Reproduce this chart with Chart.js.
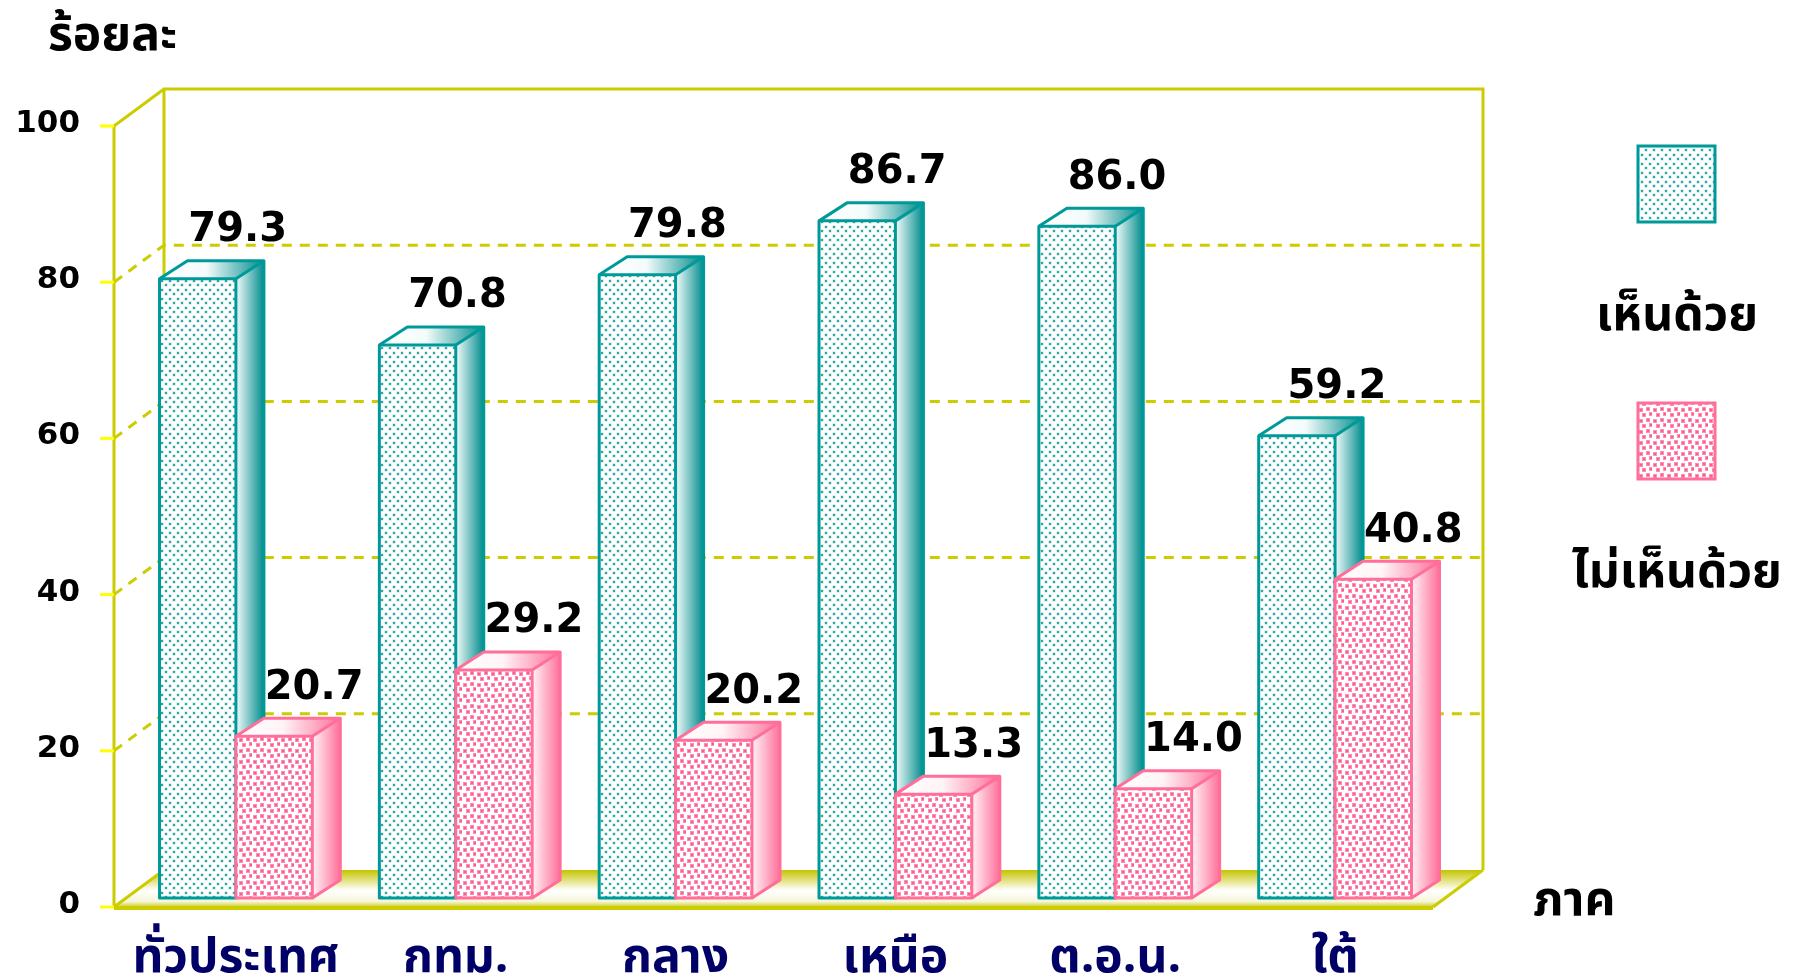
<!DOCTYPE html>
<html>
<head>
<meta charset="utf-8">
<script src="https://cdn.jsdelivr.net/npm/chart.js@4.4.1/dist/chart.umd.min.js"></script>
<style>
  html, body { margin: 0; padding: 0; background: #fff; overflow: hidden; }
  canvas { display: block; }
</style>
</head>
<body>
<canvas id="c" width="1798" height="979"></canvas>
<script>
// data
var categories = ['ทั่วประเทศ', 'กทม.', 'กลาง', 'เหนือ', 'ต.อ.น.', 'ใต้'];
var agree = [79.3, 70.8, 79.8, 86.7, 86.0, 59.2];
var disagree = [20.7, 29.2, 20.2, 13.3, 14.0, 40.8];
var seriesNames = ['เห็นด้วย', 'ไม่เห็นด้วย'];
var yTicks = [0, 20, 40, 60, 80, 100];
var yTitle = 'ร้อยละ';
var xTitle = 'ภาค';

var THAI = '"Noto Sans Thai", "Noto Sans Thai UI", Tahoma, "Noto Sans", sans-serif';
var NUM = '"DejaVu Sans", sans-serif';
var OLIVE = '#cccc00';

// bar depth and wall offsets
var DX = 28, DY = -18;
var FRONT_DX = -12, FRONT_DY = 9, BACK_DX = 38, BACK_DY = -28;

function makePattern(kind) {
    var c = document.createElement('canvas');
    var g = c.getContext('2d');
    if (kind === 'teal') {
        c.width = 8; c.height = 9;
        g.fillStyle = '#fff'; g.fillRect(0, 0, 8, 9);
        [[1, 1], [5, 5]].forEach(function (p) {
            g.fillStyle = '#b4e0e0';
            g.fillRect(p[0] - 0.5, p[1] - 0.5, 3, 3);
            g.fillStyle = '#2aa6a6';
            g.fillRect(p[0], p[1], 2, 2);
        });
    } else {
        c.width = 14; c.height = 11;
        g.fillStyle = '#fff'; g.fillRect(0, 0, 14, 11);
        [[1, 1], [8, 0], [4, 6], [11, 5]].forEach(function (p) {
            g.fillStyle = '#ff8fb2';
            g.fillRect(p[0], p[1], 4, 4);
            g.fillStyle = '#ff5a8e';
            g.fillRect(p[0] + 1, p[1] + 1, 2, 2);
        });
    }
    return g.createPattern(c, 'repeat');
}

var styles = [
    { line: '#009999', dark: '#008c8c', light: '#f4fbfb', pattern: null, kind: 'teal' },
    { line: '#ff6f9a', dark: '#ff6f9a', light: '#fff4f7', pattern: null, kind: 'pink' }
];

function drawBar(ctx, el, s) {
    var l = el.x - el.width / 2, r = el.x + el.width / 2, t = el.y, b = el.base;
    ctx.save();
    ctx.lineJoin = 'round';
    // side face
    var gs = ctx.createLinearGradient(r, 0, r + DX, 0);
    gs.addColorStop(0, s.light);
    gs.addColorStop(1, s.dark);
    ctx.beginPath();
    ctx.moveTo(r, b); ctx.lineTo(r, t); ctx.lineTo(r + DX, t + DY); ctx.lineTo(r + DX, b + DY); ctx.closePath();
    ctx.fillStyle = gs; ctx.fill();
    // top face
    var gt = ctx.createLinearGradient(l, 0, r + DX, 0);
    gt.addColorStop(0, '#ffffff');
    gt.addColorStop(0.45, s.light);
    gt.addColorStop(1, s.dark);
    ctx.beginPath();
    ctx.moveTo(l, t); ctx.lineTo(l + DX, t + DY); ctx.lineTo(r + DX, t + DY); ctx.lineTo(r, t); ctx.closePath();
    ctx.fillStyle = gt; ctx.fill();
    // front face
    ctx.fillStyle = s.pattern;
    ctx.fillRect(l, t, r - l, b - t);
    ctx.strokeStyle = s.line;
    ctx.lineWidth = 3;
    ctx.strokeRect(l, t, r - l, b - t);
    ctx.beginPath();
    ctx.moveTo(l, t); ctx.lineTo(l + DX, t + DY); ctx.lineTo(r + DX, t + DY); ctx.lineTo(r + DX, b + DY); ctx.lineTo(r, b);
    ctx.moveTo(r, t); ctx.lineTo(r + DX, t + DY);
    ctx.stroke();
    ctx.restore();
}

var box3d = {
    id: 'box3d',
    beforeDatasetsDraw: function (chart) {
        var ctx = chart.ctx, ca = chart.chartArea, ys = chart.scales.y;
        var fy = function (v) { return ys.getPixelForValue(v) + FRONT_DY; };
        var by = function (v) { return ys.getPixelForValue(v) + BACK_DY; };
        var fl = ca.left + FRONT_DX, fr = ca.right + FRONT_DX;
        var bl = ca.left + BACK_DX, br = ca.right + BACK_DX;
        var top = ys.max, bot = ys.min;
        ctx.save();
        // floor
        var gf = ctx.createLinearGradient(0, by(bot), 0, fy(bot));
        gf.addColorStop(0, '#c4c400');
        gf.addColorStop(0.55, '#ffffff');
        gf.addColorStop(0.85, '#f6f6dc');
        gf.addColorStop(1, '#d0d020');
        ctx.beginPath();
        ctx.moveTo(fl, fy(bot)); ctx.lineTo(fr, fy(bot)); ctx.lineTo(br, by(bot)); ctx.lineTo(bl, by(bot)); ctx.closePath();
        ctx.fillStyle = gf; ctx.fill();
        // dashed grid
        ctx.strokeStyle = OLIVE;
        ctx.lineWidth = 3;
        ctx.setLineDash([10, 8]);
        ys.ticks.forEach(function (t) {
            if (t.value === top || t.value === bot) return;
            ctx.beginPath();
            ctx.moveTo(fl, fy(t.value)); ctx.lineTo(bl, by(t.value)); ctx.lineTo(br, by(t.value));
            ctx.stroke();
        });
        ctx.setLineDash([]);
        // walls
        ctx.beginPath();
        ctx.moveTo(fl, fy(bot)); ctx.lineTo(fl, fy(top)); ctx.lineTo(bl, by(top)); ctx.lineTo(br, by(top)); ctx.lineTo(br, by(bot));
        ctx.moveTo(bl, by(top)); ctx.lineTo(bl, by(bot));
        ctx.moveTo(fl, fy(bot)); ctx.lineTo(bl, by(bot));
        ctx.moveTo(fr, fy(bot)); ctx.lineTo(br, by(bot));
        ctx.stroke();
        ctx.lineWidth = 4;
        ctx.beginPath();
        ctx.moveTo(fl, fy(bot) + 1); ctx.lineTo(fr, fy(bot) + 1);
        ctx.stroke();
        // tick marks and tick labels
        ctx.strokeStyle = '#ffff00';
        ctx.lineWidth = 3;
        ctx.fillStyle = '#000';
        ctx.font = 'bold 31px ' + NUM;
        ctx.textAlign = 'right';
        ctx.textBaseline = 'alphabetic';
        ys.ticks.forEach(function (t) {
            ctx.beginPath();
            ctx.moveTo(fl - 14, fy(t.value)); ctx.lineTo(fl, fy(t.value));
            ctx.stroke();
            ctx.fillText(String(t.value), 80, ys.getPixelForValue(t.value) + 15);
        });
        ctx.restore();
        // bars
        if (!styles[0].pattern) {
            styles.forEach(function (s) { s.pattern = makePattern(s.kind); });
        }
        var m0 = chart.getDatasetMeta(0), m1 = chart.getDatasetMeta(1);
        for (var i = 0; i < categories.length; i++) {
            drawBar(ctx, m0.data[i], styles[0]);
            drawBar(ctx, m1.data[i], styles[1]);
        }
        return false;
    },
    afterDraw: function (chart) {
        var ctx = chart.ctx;
        ctx.save();
        // value labels
        ctx.fillStyle = '#000';
        ctx.font = 'bold 40px ' + NUM;
        ctx.textAlign = 'center';
        ctx.textBaseline = 'middle';
        chart.data.datasets.forEach(function (ds, d) {
            chart.getDatasetMeta(d).data.forEach(function (el, i) {
                ctx.fillText(ds.data[i].toFixed(1), el.x + 40, el.y - 48);
            });
        });
        // axis titles
        ctx.font = 'bold 48px ' + THAI;
        ctx.textAlign = 'left';
        ctx.fillText(yTitle, 48, 40);
        ctx.fillText(xTitle, 1533, 905);
        // legend
        var boxes = [146, 403];
        var textY = [320, 577];
        styles.forEach(function (s, k) {
            if (!s.pattern) s.pattern = makePattern(s.kind);
            ctx.fillStyle = s.pattern;
            ctx.fillRect(1638, boxes[k], 77, 76);
            ctx.strokeStyle = s.line;
            ctx.lineWidth = 3;
            ctx.strokeRect(1638, boxes[k], 77, 76);
            ctx.fillStyle = '#000';
            ctx.textAlign = 'center';
            ctx.fillText(seriesNames[k], 1677, textY[k]);
        });
        ctx.restore();
    }
};

new Chart(document.getElementById('c'), {
    type: 'bar',
    data: {
        labels: categories,
        datasets: [
            { label: seriesNames[0], data: agree, backgroundColor: '#009999' },
            { label: seriesNames[1], data: disagree, backgroundColor: '#ff6f9a' }
        ]
    },
    options: {
        responsive: false,
        devicePixelRatio: 1,
        animation: false,
        layout: { padding: { top: 117, right: 353, bottom: 0, left: 0 } },
        datasets: { bar: { barPercentage: 1, categoryPercentage: 0.695 } },
        plugins: { legend: { display: false }, tooltip: { enabled: false } },
        scales: {
            x: {
                grid: { display: false, drawTicks: false },
                border: { display: false },
                ticks: { color: '#000066', font: { family: THAI, size: 48, weight: 'bold' }, padding: 35, maxRotation: 0 },
                afterFit: function (s) { s.height = 81; }
            },
            y: {
                min: 0, max: 100,
                afterBuildTicks: function (s) { s.ticks = yTicks.map(function (v) { return { value: v }; }); },
                grid: { display: false, drawTicks: false },
                border: { display: false },
                ticks: { display: false },
                afterFit: function (s) { s.width = 126; }
            }
        }
    },
    plugins: [box3d]
});
</script>
</body>
</html>
